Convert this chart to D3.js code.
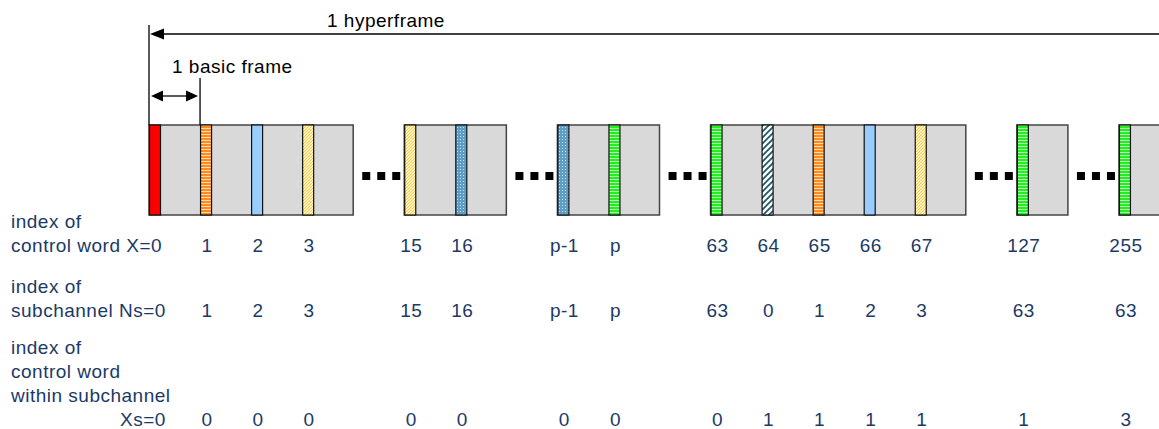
<!DOCTYPE html>
<html><head><meta charset="utf-8">
<script src="https://cdn.jsdelivr.net/npm/d3@7"></script>
<style>body{margin:0;background:#fff;} svg{display:block;}</style>
</head><body>
<svg id="c" width="1159" height="429"></svg>
<script>
// ---- data ----
const frameSlots = [0,1,2,3,5,6,8,9,11,12,13,14,15,17,19];
const frameKinds = ["red","orange","blue","yellow","yellow","bluedot","bluedot","green","green","hatch","orange","blue","yellow","green","green"];
const controlWordIdx = ["","1","2","3","15","16","p-1","p","63","64","65","66","67","127","255"];
const subchannelIdx  = ["","1","2","3","15","16","p-1","p","63","0","1","2","3","63","63"];
const withinSubIdx   = ["","0","0","0","0","0","0","0","0","1","1","1","1","1","3"];
const groupStarts = [0,5,8,11,17,19];
const groupSizes  = [4,2,2,5,1,1];
const gapSlots = [4,7,10,16,18];
const totalSlots = 20;
const rowHeadings = [
  {lines:["index of","control word X=0"]},
  {lines:["index of","subchannel Ns=0"]},
  {lines:["index of","control word","within subchannel"], last:"Xs=0"}
];

// ---- drawing ----
const svg = d3.select("#c");
const x = d3.scaleLinear().domain([0,totalSlots]).range([149,1170]);
const y = d3.scaleLinear().domain([0,1]).range([125,215]);
const font = "'Liberation Sans', Arial, sans-serif";
const navy = "#1b3a66";

const defs = svg.append("defs");
function stripePat(id, base, light){
  const p = defs.append("pattern").attr("id",id).attr("patternUnits","userSpaceOnUse").attr("width",4).attr("height",3);
  p.append("rect").attr("width",4).attr("height",3).attr("fill",base);
  p.append("rect").attr("y",2).attr("width",4).attr("height",1).attr("fill",light);
}
stripePat("p-orange","#ff8a1e","#ffd9b0");
stripePat("p-green","#22ee22","#b4ffb4");
{
  const p = defs.append("pattern").attr("id","p-yellow").attr("patternUnits","userSpaceOnUse").attr("width",3).attr("height",3);
  p.append("rect").attr("width",3).attr("height",3).attr("fill","#fff3c8");
  p.append("path").attr("d","M0,3 L3,0").attr("stroke","#ffc83a").attr("stroke-width",1);
}
{
  const p = defs.append("pattern").attr("id","p-bluedot").attr("patternUnits","userSpaceOnUse").attr("width",3).attr("height",3);
  p.append("rect").attr("width",3).attr("height",3).attr("fill","#5e9dc6");
  p.append("rect").attr("x",1).attr("y",1).attr("width",1).attr("height",1).attr("fill","#c4e2f2");
}
{
  const p = defs.append("pattern").attr("id","p-hatch").attr("patternUnits","userSpaceOnUse").attr("width",6).attr("height",6);
  p.append("rect").attr("width",6).attr("height",6).attr("fill","#ffffff");
  p.append("path").attr("d","M-1,7 L7,-1 M-1,1 L1,-1 M5,7 L7,5").attr("stroke","#1f5a70").attr("stroke-width",1.8);
}
const fills = {red:"#ff0000", orange:"url(#p-orange)", blue:"#99ccff", yellow:"url(#p-yellow)",
  bluedot:"url(#p-bluedot)", green:"url(#p-green)", hatch:"url(#p-hatch)"};

// groups of basic frames
svg.append("g").selectAll("rect").data(groupStarts).join("rect")
  .attr("x",(d)=>x(d)).attr("y",y(0))
  .attr("width",(d,i)=>x(d+groupSizes[i])-x(d)).attr("height",y(1)-y(0))
  .attr("fill","#d9d9d9").attr("stroke","#444").attr("stroke-width",1.5);

// control word bars
const barW = 12;
svg.append("g").selectAll("rect").data(frameSlots).join("rect")
  .attr("x",(d)=>x(d)+0.5).attr("y",y(0)).attr("width",barW-1).attr("height",y(1)-y(0))
  .attr("fill",(d,i)=>fills[frameKinds[i]]).attr("stroke","#111").attr("stroke-width",1.2);

// ellipsis dots
const dots = [];
gapSlots.forEach(g=>{ for(let k=0;k<3;k++) dots.push({g,k}); });
svg.append("g").selectAll("rect").data(dots).join("rect")
  .attr("x",(d)=>x(d.g+1)-42+d.k*15).attr("y",172).attr("width",8).attr("height",8).attr("fill","#000");

// hyperframe arrow
svg.append("line").attr("x1",x(0)).attr("x2",x(0)).attr("y1",25).attr("y2",y(0)).attr("stroke","#000").attr("stroke-width",1.3);
svg.append("line").attr("x1",x(0)+8).attr("x2",x(totalSlots)).attr("y1",34).attr("y2",34).attr("stroke","#000").attr("stroke-width",1.3);
svg.append("path").attr("d",`M${x(0)+1},34 L${x(0)+15},28.5 L${x(0)+15},39.5 Z`).attr("fill","#000");
svg.append("text").attr("x",327).attr("y",27).text("1 hyperframe")
  .attr("font-family",font).attr("font-size",19).attr("letter-spacing",0.5).attr("fill","#000");

// basic frame arrow
svg.append("line").attr("x1",x(1)).attr("x2",x(1)).attr("y1",78).attr("y2",y(0)).attr("stroke","#000").attr("stroke-width",1.3);
svg.append("line").attr("x1",x(0)+10).attr("x2",x(1)-10).attr("y1",96).attr("y2",96).attr("stroke","#000").attr("stroke-width",1.3);
svg.append("path").attr("d",`M${x(0)+2},96 L${x(0)+14},90.5 L${x(0)+14},101.5 Z`).attr("fill","#000");
svg.append("path").attr("d",`M${x(1)-2},96 L${x(1)-14},90.5 L${x(1)-14},101.5 Z`).attr("fill","#000");
svg.append("text").attr("x",172).attr("y",73).text("1 basic frame")
  .attr("font-family",font).attr("font-size",19).attr("letter-spacing",0.5).attr("fill","#000");

// row headings
const headG = svg.append("g").attr("font-family",font).attr("font-size",19).attr("letter-spacing",0.5).attr("fill",navy);
const rowBase = [252,317,426];
rowHeadings.forEach((r,ri)=>{
  const n = r.lines.length + (r.last?1:0);
  r.lines.forEach((t,li)=>{
    headG.append("text").attr("x",11).attr("y",rowBase[ri]-(n-1-li)*24).text(t);
  });
  if(r.last) headG.append("text").attr("x",120).attr("y",rowBase[ri]).text(r.last);
});

// index values
const rows = [controlWordIdx, subchannelIdx, withinSubIdx];
rows.forEach((vals,ri)=>{
  svg.append("g").selectAll("text").data(frameSlots).join("text")
    .attr("x",(d)=>x(d)+barW/2+1).attr("y",rowBase[ri])
    .attr("text-anchor","middle").attr("font-family",font).attr("font-size",19).attr("letter-spacing",0.5)
    .attr("fill",navy).text((d,i)=>vals[i]);
});
</script>
</body></html>
